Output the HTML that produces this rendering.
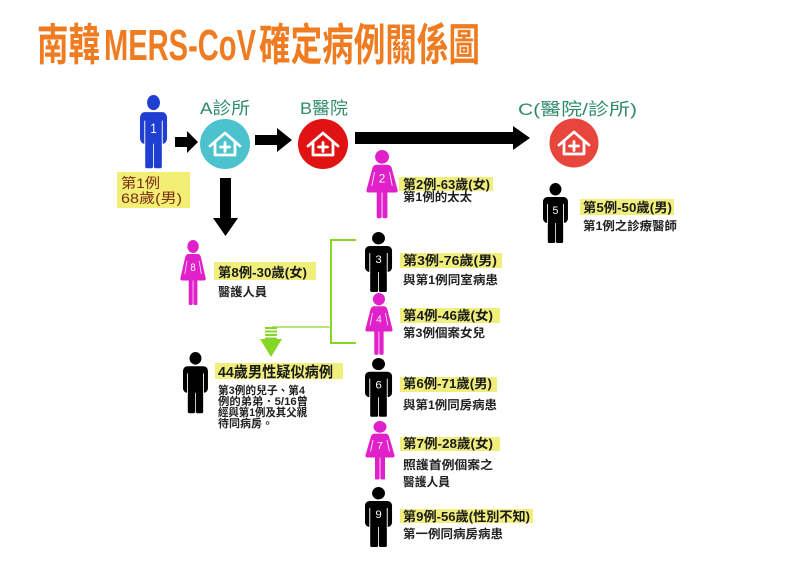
<!DOCTYPE html>
<html>
<head>
<meta charset="utf-8">
<style>
  html,body{margin:0;padding:0;background:#fff;}
  svg{display:block;}
  text{font-family:"Liberation Sans","Noto Sans CJK TC",sans-serif;}
  .lb{font-size:13px;font-weight:bold;fill:#1a1a1a;}
  .sb{font-size:12px;font-weight:bold;fill:#222;}
  .hd{font-size:17px;fill:#2f8a6e;}
  .num{font-size:11px;fill:#fff;text-anchor:middle;font-family:"Liberation Sans",sans-serif;}
  .tt{font-size:44px;font-weight:bold;fill:#f07c22;}
</style>
</head>
<body>
<svg width="800" height="566" viewBox="0 0 800 566" xmlns="http://www.w3.org/2000/svg">
  <defs>
    <g id="man">
      <circle cx="13" cy="6.2" r="6.2"/>
      <rect x="0" y="14" width="26" height="26" rx="4.5"/>
      <rect x="5" y="34" width="7.6" height="26" rx="1.5"/>
      <rect x="13.4" y="34" width="7.6" height="26" rx="1.5"/>
      <line x1="4.6" y1="21" x2="4.6" y2="41" stroke="#fff" stroke-width="0.9"/>
      <line x1="21.4" y1="21" x2="21.4" y2="41" stroke="#fff" stroke-width="0.9"/>
    </g>
    <g id="woman">
      <circle cx="15" cy="6.5" r="6.5"/>
      <path d="M10,14 H20 Q23,14 24,17 L29.5,38 Q30,40.5 27.5,40.5 H2.5 Q0,40.5 0.5,38 L6,17 Q7,14 10,14 Z"/>
      <rect x="10" y="38" width="4.6" height="27" rx="1.5"/>
      <rect x="15.4" y="38" width="4.6" height="27" rx="1.5"/>
      <line x1="8" y1="21" x2="5.5" y2="34" stroke="#fff" stroke-width="0.8"/>
      <line x1="22" y1="21" x2="24.5" y2="34" stroke="#fff" stroke-width="0.8"/>
    </g>
    <g id="house" fill="none" stroke="#fff" stroke-width="2.8" stroke-linecap="round" stroke-linejoin="round">
      <path d="M-15,2 L0,-11 L15,2"/>
      <path d="M-10,-2 V11 H10 V-2"/>
      <path d="M0,-1.5 V7.5 M-4.5,3 H4.5"/>
    </g>
  </defs>

  <!-- Title -->
  <text class="tt" x="37" y="60" textLength="63" lengthAdjust="spacingAndGlyphs">南韓</text>
  <text class="tt" x="104" y="60" font-size="40" textLength="152" lengthAdjust="spacingAndGlyphs">MERS-CoV</text>
  <text class="tt" x="259" y="60" textLength="221" lengthAdjust="spacingAndGlyphs">確定病例關係圖</text>

  <!-- Facility labels -->
  <text class="hd" x="200" y="114" textLength="50" lengthAdjust="spacingAndGlyphs">A診所</text>
  <text class="hd" x="300" y="114" textLength="48" lengthAdjust="spacingAndGlyphs">B醫院</text>
  <text class="hd" x="518" y="115" font-size="18" textLength="119" lengthAdjust="spacingAndGlyphs">C(醫院/診所)</text>

  <!-- Facility circles -->
  <circle cx="225" cy="144" r="25" fill="#4cc2cc"/>
  <use href="#house" x="225" y="144"/>
  <circle cx="323" cy="144" r="25" fill="#e01212"/>
  <use href="#house" x="323" y="144"/>
  <circle cx="574" cy="143" r="24.5" fill="#e8463c"/>
  <use href="#house" x="574" y="143"/>

  <!-- Black arrows -->
  <polygon fill="#000" points="175,137 187,137 187,131 198,142 187,153 187,147 175,147"/>
  <polygon fill="#000" points="255,135 277,135 277,128 292,140 277,152 277,145 255,145"/>
  <polygon fill="#000" points="355,132 513,132 513,126 530,138 513,150 513,144 355,144"/>
  <polygon fill="#000" points="220,178 231,178 231,218 238,218 225.5,236 213,218 220,218"/>

  <!-- Green connector -->
  <polyline points="356,240 331,240 331,343 356,343" fill="none" stroke="#86d626" stroke-width="2"/>
  <line x1="331" y1="327" x2="272" y2="327" stroke="#9ee04a" stroke-width="1.6"/>
  <g fill="#86d626">
    <rect x="265" y="327" width="12" height="2"/>
    <rect x="265" y="330.5" width="12" height="2"/>
    <rect x="265" y="334" width="12" height="2"/>
    <rect x="265" y="337.5" width="12" height="2"/>
    <polygon points="260,339 282,339 271,357"/>
  </g>

  <!-- Person 1 -->
  <g transform="translate(140,95) scale(1.04,1.22)" fill="#1f3fd2"><use href="#man"/><text class="num" x="13" y="31">1</text></g>
  <rect x="117" y="172" width="73" height="36" fill="#f3ee74"/>
  <text x="121" y="188" font-size="14" fill="#7a2e14" textLength="39" lengthAdjust="spacingAndGlyphs">第1例</text>
  <text x="121" y="203" font-size="14" fill="#7a2e14" textLength="61" lengthAdjust="spacingAndGlyphs">68歲(男)</text>

  <!-- Person 8 -->
  <g transform="translate(180,240) scale(0.87,1)" fill="#e020c8"><use href="#woman"/><text class="num" x="15" y="31">8</text></g>
  <rect x="214" y="262" width="102" height="18" fill="#f1ef7c"/>
  <text class="lb" x="218" y="277" textLength="89" lengthAdjust="spacingAndGlyphs">第8例-30歲(女)</text>
  <text class="sb" x="218" y="296" textLength="49" lengthAdjust="spacingAndGlyphs">醫護人員</text>

  <!-- Person 44 -->
  <g transform="translate(183,352) scale(0.96,1.02)" fill="#000"><use href="#man"/></g>
  <rect x="215" y="363" width="128" height="16" fill="#f1ef7c"/>
  <text x="218" y="377" font-size="15" font-weight="bold" fill="#1a1a1a" textLength="115" lengthAdjust="spacingAndGlyphs">44歲男性疑似病例</text>
  <text x="218" y="394" font-size="11" font-weight="bold" fill="#222" textLength="87" lengthAdjust="spacingAndGlyphs">第3例的兒子、第4</text>
  <text x="218" y="405" font-size="11" font-weight="bold" fill="#222" textLength="90" lengthAdjust="spacingAndGlyphs">例的弟弟．5/16曾</text>
  <text x="218" y="416" font-size="11" font-weight="bold" fill="#222" textLength="89" lengthAdjust="spacingAndGlyphs">經與第1例及其父親</text>
  <text x="218" y="427" font-size="11" font-weight="bold" fill="#222" textLength="55" lengthAdjust="spacingAndGlyphs">待同病房。</text>

  <!-- Person 2 -->
  <g transform="translate(366,150) scale(1.07,1.05)" fill="#e020c8"><use href="#woman"/><text class="num" x="15" y="31">2</text></g>
  <rect x="399" y="177" width="94" height="14" fill="#f1ef7c"/>
  <text class="lb" x="403" y="189" textLength="87" lengthAdjust="spacingAndGlyphs">第2例-63歲(女)</text>
  <text class="sb" x="403" y="201" textLength="69" lengthAdjust="spacingAndGlyphs">第1例的太太</text>

  <!-- Person 5 -->
  <g transform="translate(543,183) scale(0.96,1)" fill="#000"><use href="#man"/><text class="num" x="13" y="31">5</text></g>
  <rect x="580" y="199" width="94" height="16" fill="#f1ef7c"/>
  <text class="lb" x="583" y="212" textLength="89" lengthAdjust="spacingAndGlyphs">第5例-50歲(男)</text>
  <text class="sb" x="583" y="230" textLength="94" lengthAdjust="spacingAndGlyphs">第1例之診療醫師</text>

  <!-- Person 3 -->
  <g transform="translate(365,232) scale(1.04,1)" fill="#000"><use href="#man"/><text class="num" x="13" y="31">3</text></g>
  <rect x="400" y="253" width="102" height="15" fill="#f1ef7c"/>
  <text class="lb" x="403" y="265" textLength="94" lengthAdjust="spacingAndGlyphs">第3例-76歲(男)</text>
  <text class="sb" x="403" y="284" textLength="95" lengthAdjust="spacingAndGlyphs">與第1例同室病患</text>

  <!-- Person 4 -->
  <g transform="translate(365,293) scale(0.93,0.95)" fill="#e020c8"><use href="#woman"/><text class="num" x="15" y="31">4</text></g>
  <rect x="400" y="308" width="100" height="15" fill="#f1ef7c"/>
  <text class="lb" x="403" y="320" textLength="90" lengthAdjust="spacingAndGlyphs">第4例-46歲(女)</text>
  <text class="sb" x="403" y="337" textLength="82" lengthAdjust="spacingAndGlyphs">第3例個案女兒</text>

  <!-- Person 6 -->
  <g transform="translate(365,358) scale(1.04,0.98)" fill="#000"><use href="#man"/><text class="num" x="13" y="31">6</text></g>
  <rect x="400" y="377" width="97" height="15" fill="#f1ef7c"/>
  <text class="lb" x="403" y="388" textLength="89" lengthAdjust="spacingAndGlyphs">第6例-71歲(男)</text>
  <text class="sb" x="403" y="409" textLength="94" lengthAdjust="spacingAndGlyphs">與第1例同房病患</text>

  <!-- Person 7 -->
  <g transform="translate(365,421) scale(1,0.9)" fill="#e020c8"><use href="#woman"/><text class="num" x="15" y="31">7</text></g>
  <rect x="400" y="437" width="100" height="14" fill="#f1ef7c"/>
  <text class="lb" x="403" y="448" textLength="90" lengthAdjust="spacingAndGlyphs">第7例-28歲(女)</text>
  <text class="sb" x="403" y="469" textLength="90" lengthAdjust="spacingAndGlyphs">照護首例個案之</text>
  <text class="sb" x="403" y="486" textLength="47" lengthAdjust="spacingAndGlyphs">醫護人員</text>

  <!-- Person 9 -->
  <g transform="translate(365,487) scale(1.04,1)" fill="#000"><use href="#man"/><text class="num" x="13" y="31">9</text></g>
  <rect x="400" y="509" width="133" height="14" fill="#f1ef7c"/>
  <text class="lb" x="403" y="521" textLength="127" lengthAdjust="spacingAndGlyphs">第9例-56歲(性別不知)</text>
  <text class="sb" x="403" y="538" textLength="100" lengthAdjust="spacingAndGlyphs">第一例同病房病患</text>
</svg>
</body>
</html>
